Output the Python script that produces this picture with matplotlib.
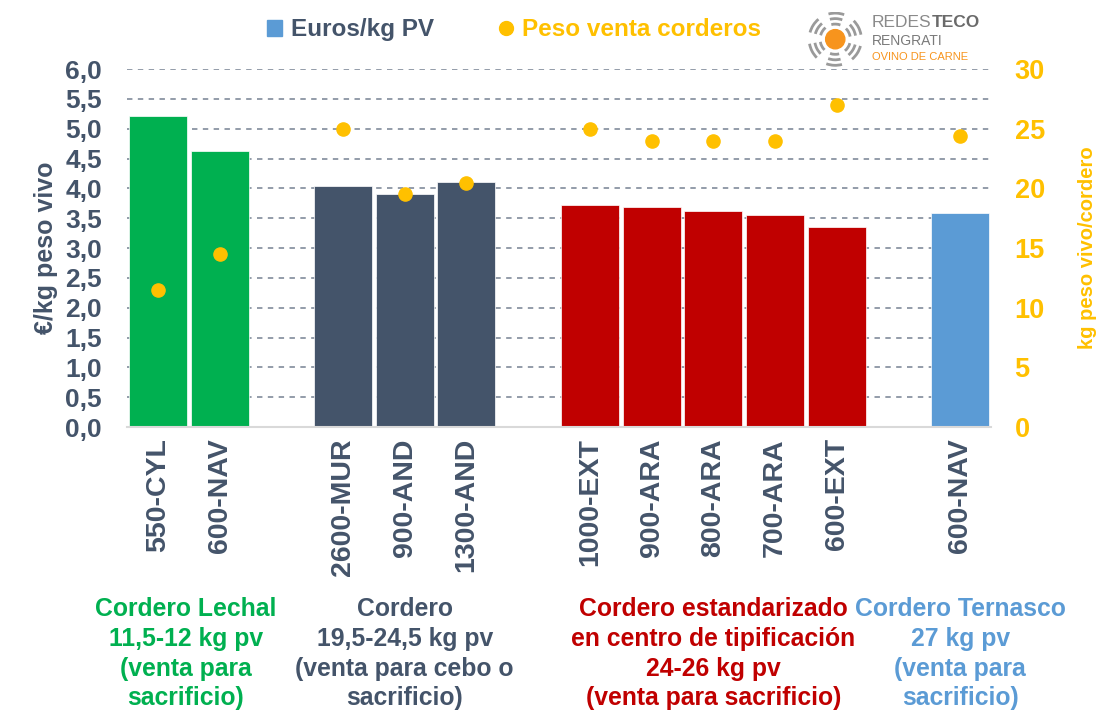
import numpy as np
import matplotlib.pyplot as plt
from matplotlib.patches import Circle, Arc, Patch
from matplotlib.lines import Line2D

plt.rcParams['font.family'] = ['Liberation Sans', 'DejaVu Sans']
plt.rcParams['font.weight'] = 'bold'
plt.rcParams['axes.labelweight'] = 'bold'

# ── Datos ────────────────────────────────────────────────
categorias = ["550-CYL", "600-NAV", "2600-MUR", "900-AND", "1300-AND",
              "1000-EXT", "900-ARA", "800-ARA", "700-ARA", "600-EXT", "600-NAV"]
posiciones = [0, 1, 3, 4, 5, 7, 8, 9, 10, 11, 13]
euros_kg = [5.21, 4.63, 4.04, 3.91, 4.11, 3.72, 3.69, 3.62, 3.56, 3.36, 3.59]
peso_venta = [11.5, 14.5, 25.0, 19.5, 20.5, 25.0, 24.0, 24.0, 24.0, 27.0, 24.4]
grupo = [0, 0, 1, 1, 1, 2, 2, 2, 2, 2, 3]

yticks_izq = [0, 0.5, 1, 1.5, 2, 2.5, 3, 3.5, 4, 4.5, 5, 5.5, 6]
yticks_izq_lbl = ["0,0", "0,5", "1,0", "1,5", "2,0", "2,5", "3,0",
                  "3,5", "4,0", "4,5", "5,0", "5,5", "6,0"]
yticks_der = [0, 5, 10, 15, 20, 25, 30]

grupos_txt = ["Cordero Lechal\n11,5-12 kg pv\n(venta para\nsacrificio)",
              "Cordero\n19,5-24,5 kg pv\n(venta para cebo o\nsacrificio)",
              "Cordero estandarizado\nen centro de tipificación\n24-26 kg pv\n(venta para sacrificio)",
              "Cordero Ternasco\n27 kg pv\n(venta para\nsacrificio)"]
grupos_x = [0.45, 4, 9, 13]

# ── Colores ──────────────────────────────────────────────
colores_grupo = ["#00B050", "#44546A", "#C00000", "#5B9BD5"]
gris = "#44546A"
amarillo = "#FFC000"

fig = plt.figure(figsize=(10.99, 7.13), dpi=100)
ax = fig.add_axes([0.1156, 0.401, 0.7861, 0.502])
ax2 = ax.twinx()

# ── Barras €/kg ──────────────────────────────────────────
ax.bar(posiciones, euros_kg, width=0.94,
       color=[colores_grupo[g] for g in grupo],
       edgecolor="white", linewidth=0.5, zorder=2)

ax.set_xlim(-0.5, 13.5)
ax.set_ylim(0, 6)
ax.set_yticks(yticks_izq)
ax.set_yticklabels(yticks_izq_lbl, fontsize=19, color=gris)
ax.yaxis.grid(True, linestyle=(0, (3, 3)), color="#8A94A2", linewidth=1.3, zorder=0)
ax.set_axisbelow(True)
ax.set_xticks(posiciones)
ax.set_xticklabels(categorias, rotation=90, fontsize=20.5, color=gris)
ax.tick_params(axis="x", length=0, pad=8)
ax.tick_params(axis="y", length=0, pad=18)
ax.set_ylabel("€/kg peso vivo", fontsize=18, color=gris, labelpad=5)
for s in ["top", "left", "right"]:
    ax.spines[s].set_visible(False)
ax.spines["bottom"].set_color("#D9D9D9")
ax.spines["bottom"].set_linewidth(1.5)

# ── Puntos peso venta ────────────────────────────────────
ax2.scatter(posiciones, peso_venta, s=90, color=amarillo, zorder=3)
ax2.set_ylim(0, 30)
ax2.set_yticks(yticks_der)
ax2.set_yticklabels([str(v) for v in yticks_der], fontsize=19.5, color=amarillo)
ax2.tick_params(axis="y", length=0, pad=17)
ax2.set_ylabel("kg peso vivo/cordero", fontsize=14.5, color=amarillo, labelpad=24)
for s in ["top", "left", "right", "bottom"]:
    ax2.spines[s].set_visible(False)

# ── Etiquetas de grupo ───────────────────────────────────
for txt, gx, col in zip(grupos_txt, grupos_x, colores_grupo):
    ax.text(gx, -0.475, txt, transform=ax.get_xaxis_transform(),
            ha="center", va="top", fontsize=17.8, color=col, linespacing=1.3)

# ── Leyenda ──────────────────────────────────────────────
handles = [Patch(color="#5B9BD5"),
           Line2D([], [], marker="o", linestyle="", color=amarillo, markersize=10)]
leg = fig.legend(handles, ["Euros/kg PV", "Peso venta corderos"], ncol=2,
                 loc="center", bbox_to_anchor=(0.468, 0.958), frameon=False,
                 fontsize=17.5, handlelength=0.6, handleheight=0.6,
                 handletextpad=0.35, columnspacing=2.7)
leg.get_texts()[0].set_color(gris)
leg.get_texts()[1].set_color(amarillo)

# ── Logo ─────────────────────────────────────────────────
lax = fig.add_axes([0.735, 0.905, 0.05, 0.08])
lax.set_xlim(-1, 1)
lax.set_ylim(-1, 1)
lax.set_aspect("equal")
lax.axis("off")
lax.add_patch(Circle((0, 0), 0.35, color="#F7941D"))
for r in [0.55, 0.75, 0.95]:
    for a0 in range(0, 360, 60):
        lax.add_patch(Arc((0, 0), 2 * r, 2 * r, theta1=a0 + 10, theta2=a0 + 45,
                          color="#9A9A9A", lw=2))
redes = fig.text(0.793, 0.968, "REDES", fontsize=12.5, color="#8A8A8A",
                 weight="normal", va="center")
ax.annotate("TECO", xy=(1, 0.5), xycoords=redes, xytext=(0.5, 0),
            textcoords="offset points", fontsize=12.5, color="#6A6A6A",
            weight="bold", va="center", ha="left", annotation_clip=False)
fig.text(0.793, 0.942, "RENGRATI", fontsize=10, color="#7A7A7A", weight="normal", va="center")
fig.text(0.793, 0.92, "OVINO DE CARNE", fontsize=8, color="#F7941D", weight="normal", va="center")

plt.savefig("out.png", dpi=100)
